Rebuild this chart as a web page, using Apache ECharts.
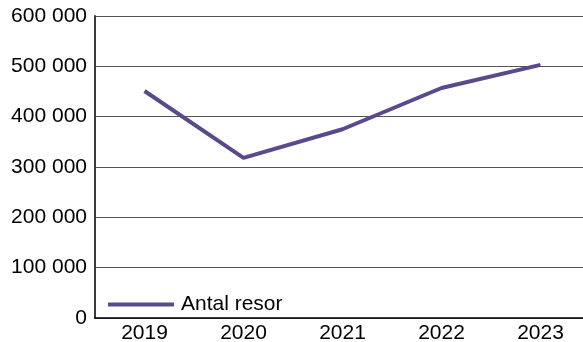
<!DOCTYPE html>
<html>
<head>
<meta charset="utf-8">
<script src="https://cdn.jsdelivr.net/npm/echarts@6/dist/echarts.min.js"></script>
<style>
    html, body { margin: 0; padding: 0; background: #ffffff; }
    #chart { width: 583px; height: 342px; }
</style>
</head>
<body>
<div id="chart"></div>
<script>
// antal resor per år
var years = ['2019', '2020', '2021', '2022', '2023'];
var antalResor = [451000, 318000, 375000, 457000, 503000];
var yTicks = [0, 100000, 200000, 300000, 400000, 500000, 600000];

function formatNumber(v) {
    return String(v).replace(/\B(?=(\d{3})+(?!\d))/g, ' ');
}

var myChart = echarts.init(document.getElementById('chart'));
myChart.setOption({
    animation: false,
    textStyle: {
        fontFamily: 'Liberation Sans, Arial, sans-serif'
    },
    grid: {
        left: 95,
        width: 495,
        top: 16,
        bottom: 24,
        outerBoundsMode: 'none'
    },
    legend: {
        left: 103,
        top: 289,
        itemWidth: 66,
        itemHeight: 4,
        itemGap: 10,
        icon: 'rect',
        textStyle: {
            fontSize: 21,
            color: '#000000',
            padding: [0, 0, 0, 2]
        },
        data: [{ name: 'Antal resor', itemStyle: { color: '#5b4a8b' } }]
    },
    xAxis: {
        type: 'category',
        data: years,
        boundaryGap: true,
        axisLine: { lineStyle: { color: '#000000', width: 1.5 } },
        axisTick: { show: false },
        axisLabel: {
            color: '#000000',
            fontSize: 21,
            margin: 5
        }
    },
    yAxis: {
        type: 'value',
        min: yTicks[0],
        max: yTicks[yTicks.length - 1],
        interval: 100000,
        axisLine: { show: true, lineStyle: { color: '#3a3a3a', width: 2 } },
        axisTick: { show: false },
        splitLine: { lineStyle: { color: '#555555', width: 1 } },
        axisLabel: {
            color: '#000000',
            fontSize: 21,
            margin: 8,
            formatter: function (v) { return formatNumber(v); }
        }
    },
    series: [{
        name: 'Antal resor',
        type: 'line',
        data: antalResor,
        showSymbol: false,
        lineStyle: { color: '#5b4a8b', width: 4 },
        itemStyle: { color: '#5b4a8b' }
    }]
});
</script>
</body>
</html>
